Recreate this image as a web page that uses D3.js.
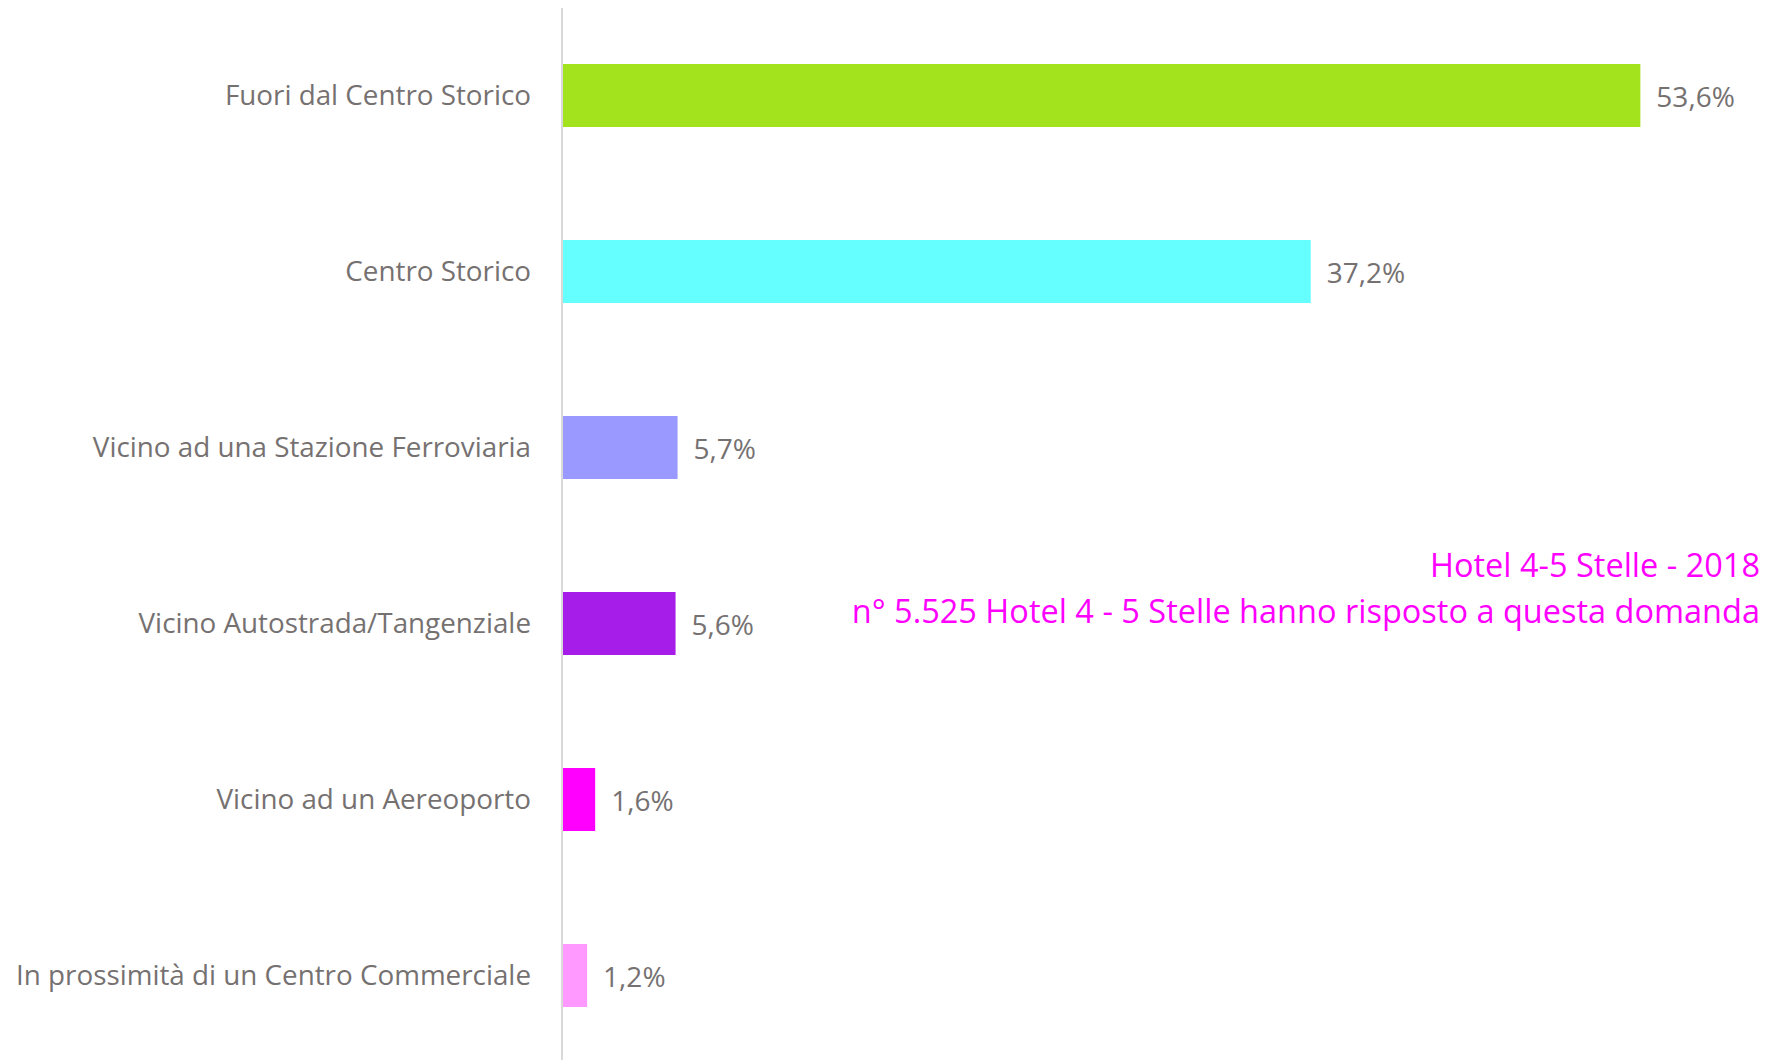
<!DOCTYPE html>
<html>
<head>
<meta charset="utf-8">
<script src="https://cdn.jsdelivr.net/npm/d3@7"></script>
<style>
  body { margin: 0; background: #fff; }
  svg text { font-family: "Open Sans", Lato, sans-serif; }
</style>
</head>
<body>
<div id="chart"></div>
<script>
const width = 1768;
const height = 1060;

const categories = [
  'Fuori dal Centro Storico',
  'Centro Storico',
  'Vicino ad una Stazione Ferroviaria',
  'Vicino Autostrada/Tangenziale',
  'Vicino ad un Aereoporto',
  'In prossimità di un Centro Commerciale'
];
const values = [53.6, 37.2, 5.7, 5.6, 1.6, 1.2];
const colors = ['#a2e31e', '#66ffff', '#9999ff', '#a61ce8', '#ff00ff', '#ff99ff'];
const notes = [
  'Hotel 4-5 Stelle - 2018',
  'n° 5.525 Hotel 4 - 5 Stelle hanno risposto a questa domanda'
];

const fmt = v => d3.format('.1f')(v).replace('.', ',') + '%';

const axisX = 562;

const x = d3.scaleLinear()
  .domain([0, 60])
  .range([axisX, width]);

const y = d3.scaleBand()
  .domain(categories)
  .range([7.5, 7.5 + 176 * categories.length])
  .paddingInner(0.642)
  .paddingOuter(0.321);

const svg = d3.select('#chart').append('svg')
  .attr('width', width)
  .attr('height', height);

const rows = categories.map((c, i) => ({cat: c, value: values[i], color: colors[i]}));

svg.selectAll('.bar')
  .data(rows)
  .enter()
  .append('rect')
    .attr('class', 'bar')
    .attr('x', x(0) + 1)
    .attr('y', d => y(d.cat))
    .attr('width', d => x(d.value) - x(0))
    .attr('height', y.bandwidth())
    .attr('fill', d => d.color);

// category axis, no ticks, just the grey line
const yAxis = d3.axisLeft(y).tickSize(0).tickPadding(31);
const gy = svg.append('g')
  .attr('transform', `translate(${axisX},0)`)
  .call(yAxis);
gy.select('.domain').remove();
gy.selectAll('text')
  .attr('fill', '#767171')
  .style('font-size', '27.8px')
  .attr('dy', '0.35em');

svg.append('line')
  .attr('x1', axisX).attr('x2', axisX)
  .attr('y1', 8).attr('y2', height)
  .attr('stroke', '#d9d9d9')
  .attr('stroke-width', 2);

svg.selectAll('.val')
  .data(rows)
  .enter()
  .append('text')
    .attr('class', 'val')
    .attr('x', d => x(d.value) + 17)
    .attr('y', d => y(d.cat) + y.bandwidth() / 2 + 2)
    .attr('dy', '0.35em')
    .attr('fill', '#767171')
    .style('font-size', '28px')
    .text(d => fmt(d.value));

svg.selectAll('.note')
  .data(notes)
  .enter()
  .append('text')
    .attr('class', 'note')
    .attr('x', 1760)
    .attr('y', (d, i) => 566 + i * 46)
    .attr('dy', '0.35em')
    .attr('text-anchor', 'end')
    .attr('fill', '#ff00ff')
    .style('font-size', '32.5px')
    .text(d => d);
</script>
</body>
</html>
